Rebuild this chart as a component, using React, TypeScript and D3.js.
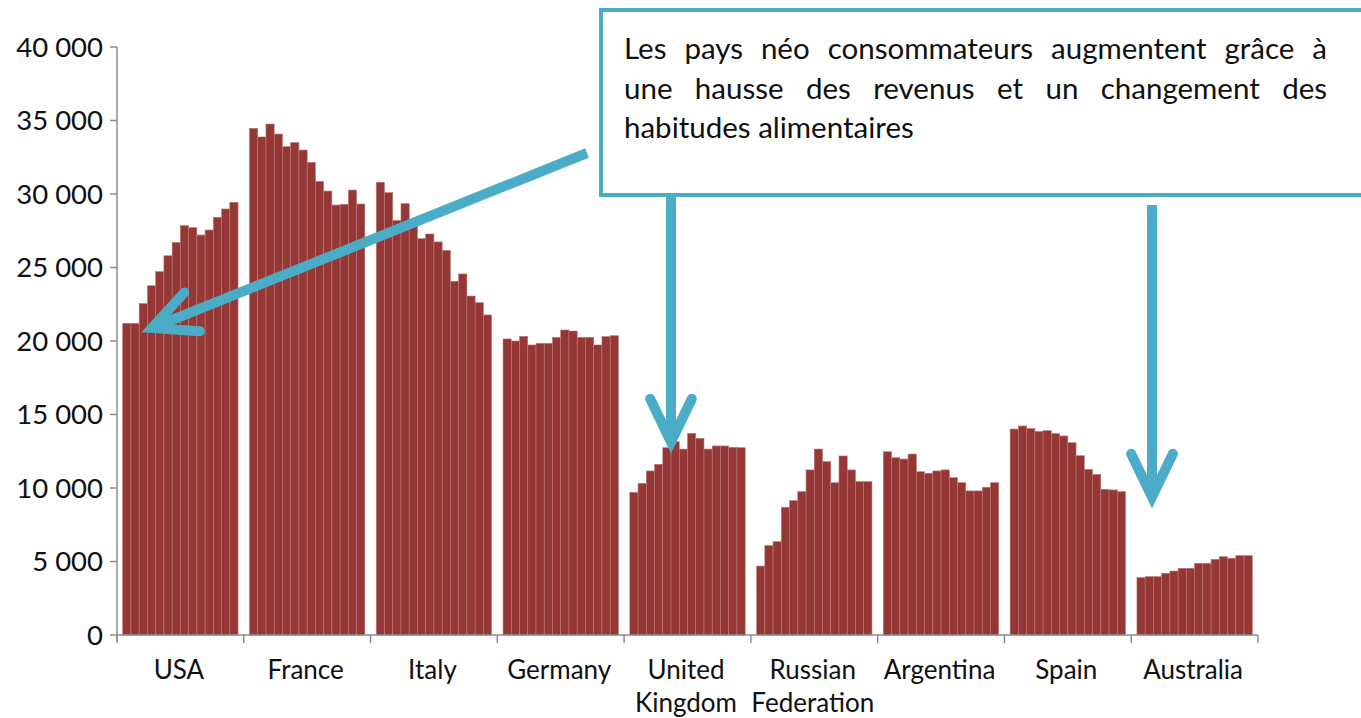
import * as d3 from 'd3'

// values, 14 yearly bars per country
const countries = ['USA', 'France', 'Italy', 'Germany', 'United Kingdom', 'Russian Federation', 'Argentina', 'Spain', 'Australia']
const usa = [21200, 21200, 22550, 23760, 24720, 25800, 26710, 27850, 27710, 27210, 27550, 28415, 28980, 29435]
const france = [34470, 33880, 34760, 34080, 33220, 33490, 32990, 32160, 30860, 30200, 29250, 29300, 30270, 29320]
const italy = [30800, 30090, 28200, 29340, 27900, 26960, 27280, 26740, 26170, 24060, 24560, 23060, 22610, 21770]
const germany = [20140, 20000, 20320, 19730, 19840, 19840, 20250, 20750, 20680, 20250, 20250, 19730, 20300, 20360]
const uk = [9710, 10320, 11160, 11610, 12740, 13150, 12650, 13720, 13380, 12650, 12860, 12860, 12770, 12740]
const russia = [4690, 6080, 6350, 8690, 9140, 9750, 11230, 12650, 11790, 10360, 12180, 11230, 10430, 10430]
const argentina = [12470, 12060, 11970, 12310, 11110, 11000, 11160, 11230, 10700, 10360, 9800, 9800, 10050, 10360]
const spain = [14010, 14220, 14050, 13850, 13900, 13700, 13540, 13080, 12200, 11270, 10930, 9910, 9870, 9750]
const australia = [3900, 3970, 3970, 4200, 4350, 4540, 4540, 4880, 4880, 5150, 5330, 5220, 5400, 5400]
const series = [usa, france, italy, germany, uk, russia, argentina, spain, australia]
const yTicks = [0, 5000, 10000, 15000, 20000, 25000, 30000, 35000, 40000]
const noteLines = [
  'Les pays néo consommateurs augmentent grâce à',
  'une hausse des revenus et un changement des',
  'habitudes alimentaires',
]

const W = 1361
const H = 718
const BAR = '#953735'
const TEAL = '#4aacc6'
const FONT = 'Lato, "Open Sans", sans-serif'

let ctx: CanvasRenderingContext2D | null = null
function textWidth(s: string, font: string): number {
  if (!ctx) ctx = document.createElement('canvas').getContext('2d')
  if (!ctx) return s.length * 12
  ctx.font = font
  return ctx.measureText(s).width
}

// justified line -> word positions
function justify(line: string, x0: number, width: number, font: string, last: boolean) {
  const words = line.split(' ')
  const ws = words.map((w) => textWidth(w, font))
  const gap = last || words.length < 2 ? textWidth(' ', font) : (width - d3.sum(ws)) / (words.length - 1)
  let x = x0
  return words.map((w, i) => {
    const p = { w, x }
    x += ws[i] + gap
    return p
  })
}

function arrowHead(tip: [number, number], from: [number, number], len: number, spread: number) {
  const ang = Math.atan2(from[1] - tip[1], from[0] - tip[0])
  const a1 = ang - spread
  const a2 = ang + spread
  return `M${tip[0] + len * Math.cos(a1)},${tip[1] + len * Math.sin(a1)}L${tip[0]},${tip[1]}L${tip[0] + len * Math.cos(a2)},${tip[1] + len * Math.sin(a2)}`
}

const arrows: { from: [number, number]; to: [number, number] }[] = [
  { from: [587, 153], to: [152, 328] },
  { from: [671, 195], to: [671, 442] },
  { from: [1152, 205], to: [1152, 497] },
]

export default function App() {
  const x0 = 117
  const x1 = 1258
  const y = d3.scaleLinear().domain([0, 40000]).range([635, 47])
  const gx = d3.scaleBand<string>().domain(countries).range([x0, x1]).paddingInner(0.09).paddingOuter(0.045)
  const bx = d3.scaleBand<number>().domain(d3.range(14)).range([0, gx.bandwidth()]).padding(0)
  const step = gx.step()
  const boundaries = d3.range(countries.length + 1).map((i) => x0 + i * step)
  const fmt = (v: number) => d3.format(',')(v).replace(',', ' ')

  const noteFont = `29.5px ${FONT}`

  return (
    <svg width={W} height={H} style={{ position: 'absolute', left: 0, top: 0, background: '#fff' }}>
      {/* bars */}
      {series.map((vals, gi) => (
        <g key={countries[gi]} transform={`translate(${gx(countries[gi])},0)`}>
          {vals.map((v, i) => (
            <rect
              key={i}
              x={bx(i)}
              y={y(v)}
              width={bx.bandwidth()}
              height={y(0) - y(v)}
              fill={BAR}
              stroke="#b97a78"
              strokeWidth={0.6}
            />
          ))}
        </g>
      ))}

      {/* y axis */}
      <line x1={x0} x2={x0} y1={y(40000)} y2={y(0) + 6} stroke="#8c8c8c" strokeWidth={1.5} />
      {yTicks.map((t) => (
        <g key={t} transform={`translate(0,${y(t)})`}>
          <line x1={x0 - 7} x2={x0} stroke="#8c8c8c" strokeWidth={1.5} />
          <text x={103} dy="0.36em" textAnchor="end" fontFamily={FONT} fontSize={27.5} fill="#101010">
            {fmt(t)}
          </text>
        </g>
      ))}

      {/* x axis */}
      <line x1={x0} x2={x1} y1={y(0)} y2={y(0)} stroke="#8c8c8c" strokeWidth={1.5} />
      {boundaries.map((b, i) => (
        <line key={i} x1={b} x2={b} y1={y(0)} y2={y(0) + 8} stroke="#8c8c8c" strokeWidth={1.5} />
      ))}
      {countries.map((c) => {
        const cx = (gx(c) ?? 0) + gx.bandwidth() / 2 - 1.5
        const parts = c.split(' ')
        return (
          <text key={c} x={cx} textAnchor="middle" fontFamily={FONT} fontSize={26} fill="#101010">
            {parts.map((p, i) => (
              <tspan key={p} x={cx} y={679 + i * 33}>
                {p}
              </tspan>
            ))}
          </text>
        )
      })}

      {/* annotation box */}
      <rect x={601} y={10} width={820} height={185} fill="#fff" stroke={TEAL} strokeWidth={4} />
      {noteLines.map((line, li) =>
        justify(line, 624, 703, noteFont, li === noteLines.length - 1).map((p, wi) => (
          <text key={`${li}-${wi}`} x={p.x} y={59 + li * 39.5} fontFamily={FONT} fontSize={29.5} fill="#101010">
            {p.w}
          </text>
        ))
      )}

      {/* arrows */}
      {arrows.map((a, i) => (
        <g key={i} stroke={TEAL} strokeWidth={10} fill="none">
          <line x1={a.from[0]} y1={a.from[1]} x2={a.to[0]} y2={a.to[1]} strokeLinecap="butt" />
          <path d={arrowHead(a.to, a.from, 48, 0.45)} strokeLinecap="round" strokeLinejoin="miter" />
        </g>
      ))}
    </svg>
  )
}
